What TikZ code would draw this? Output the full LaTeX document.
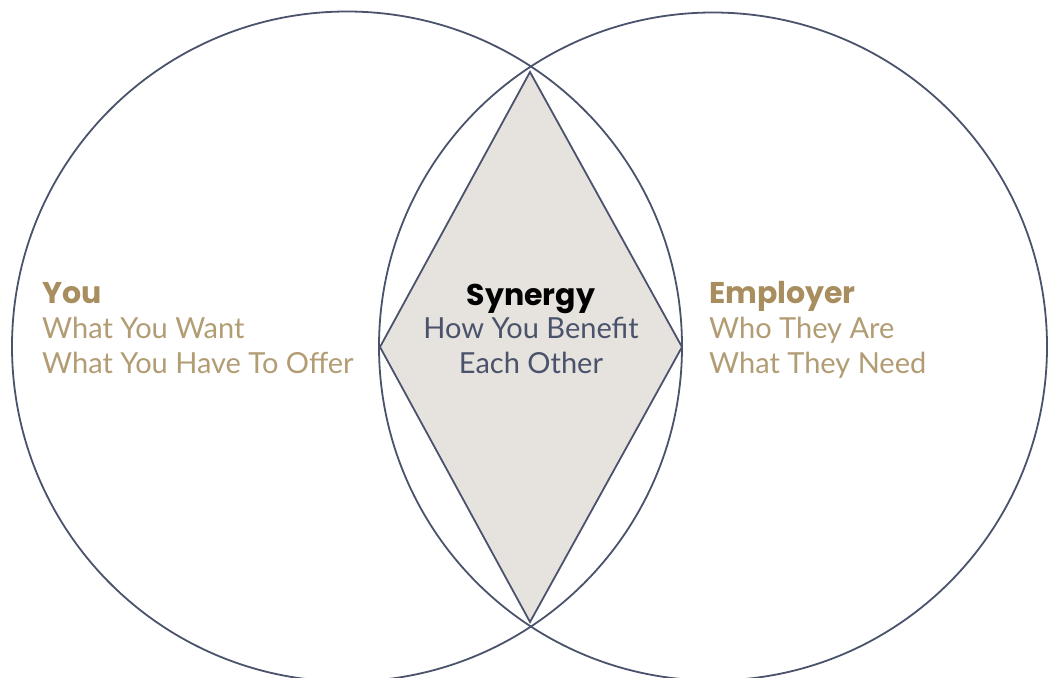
\documentclass[tikz,border=0pt]{standalone}
\usepackage{fontspec}
\setmainfont{Lato}
\newfontfamily\headfont{Poppins}
\definecolor{slate}{HTML}{4A536B}
\definecolor{goldB}{HTML}{A88D5F}
\definecolor{goldR}{HTML}{B29C74}
\definecolor{diafill}{HTML}{E6E3DE}
\tikzset{
  ring/.style={draw=slate, line width=1.8pt},
  head/.style={font=\headfont\fontsize{30}{32}\selectfont\bfseries, anchor=base west, inner sep=0pt},
  body/.style={font=\fontsize{29}{32}\selectfont, anchor=base west, inner sep=0pt, text=goldR},
  midhead/.style={font=\headfont\fontsize{30}{32}\selectfont\bfseries, anchor=base, inner sep=0pt, text=black},
  midbody/.style={font=\fontsize{29}{32}\selectfont, anchor=base, inner sep=0pt, text=slate},
}
\begin{document}
\begin{tikzpicture}[x=1pt,y=-1pt]
\useasboundingbox (0,0) rectangle (1048,677);
\clip (0,0) rectangle (1048,677);
\coordinate (dt) at (530,72);
\coordinate (dr) at (682,347);
\coordinate (db) at (530,622);
\coordinate (dl) at (380,347);
\path[fill=diafill, draw=slate, line width=1.8pt, line join=miter] (dt) -- (dr) -- (db) -- (dl) -- cycle;
\node[ring, circle, minimum size=670pt, inner sep=0pt] (left) at (347,346.5) {};
\node[ring, circle, minimum size=668pt, inner sep=0pt] (right) at (713,346.5) {};
\node[head, text=goldB] (you) at (42,303) {You};
\node[body] (you1) at (42,338) {What You Want};
\node[body] (you2) at (42,373) {What You Have To Offer};
\node[midhead] (syn) at (531,305) {Synergy};
\node[midbody] (syn1) at (531,338) {How You Benefit};
\node[midbody] (syn2) at (531,373) {Each Other};
\node[head, text=goldB] (emp) at (709,303) {Employer};
\node[body] (emp1) at (709,338) {Who They Are};
\node[body] (emp2) at (709,373) {What They Need};
\end{tikzpicture}
\end{document}
